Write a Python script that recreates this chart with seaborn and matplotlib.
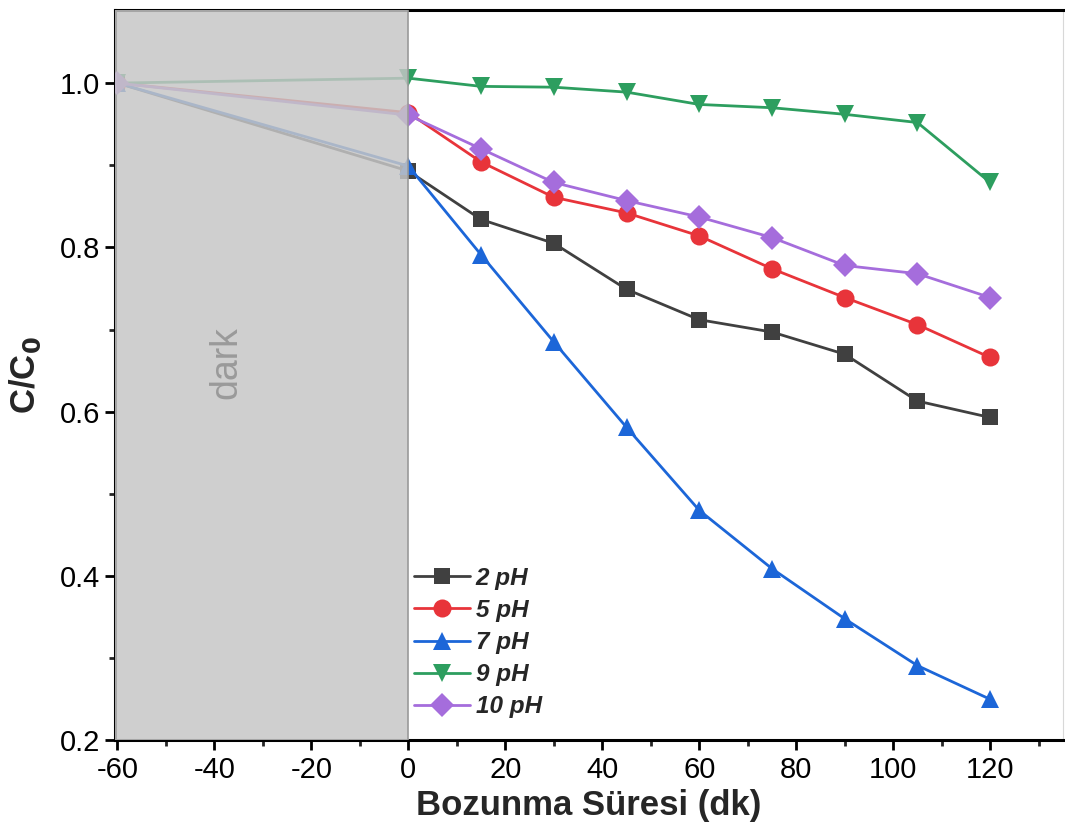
import numpy as np
import pandas as pd
import matplotlib
matplotlib.use("Agg")
import matplotlib.pyplot as plt
from matplotlib.ticker import MultipleLocator, FormatStrFormatter
import seaborn as sns

# Sampling times (min); negative = adsorption in the dark
time_min = [-60, 0, 15, 30, 45, 60, 75, 90, 105, 120]

ph_labels = ["2 pH", "5 pH", "7 pH", "9 pH", "10 pH"]
ph2 = [1.0, 0.893, 0.834, 0.805, 0.749, 0.712, 0.697, 0.670, 0.613, 0.593]
ph5 = [1.0, 0.964, 0.904, 0.861, 0.842, 0.814, 0.774, 0.739, 0.706, 0.666]
ph7 = [1.0, 0.899, 0.791, 0.685, 0.581, 0.480, 0.409, 0.348, 0.291, 0.250]
ph9 = [1.0, 1.006, 0.996, 0.995, 0.989, 0.974, 0.970, 0.962, 0.952, 0.879]
ph10 = [1.0, 0.961, 0.920, 0.879, 0.857, 0.837, 0.812, 0.778, 0.768, 0.739]

series = [ph2, ph5, ph7, ph9, ph10]
colors = ["#404040", "#e8343a", "#1c66d8", "#2d9e5f", "#a56ddc"]
markers = ["s", "o", "^", "v", "D"]
msizes = [12, 13, 13, 13, 12]

sns.set_style("ticks")
plt.rcParams["font.family"] = ["Liberation Sans", "DejaVu Sans"]
plt.rcParams["axes.unicode_minus"] = False

fig = plt.figure(figsize=(10.65, 8.3), dpi=100)
ax = fig.add_axes([0.108, 0.108, 0.89, 0.88])

for lab, vals, c, m, ms in zip(ph_labels, series, colors, markers, msizes):
    df = pd.DataFrame({"t": time_min, "c": vals})
    sns.lineplot(data=df, x="t", y="c", ax=ax, color=c, marker=m,
                 markersize=ms, markeredgewidth=0, linewidth=2.0,
                 label=lab, zorder=3)

# Dark (adsorption) period shading, laid over the lines
ax.axvspan(-61, 0, color="#c6c6c6", alpha=0.84, lw=0, zorder=4)
ax.axvline(0, color="#9a9a9a", lw=1.2, zorder=5)
ax.text(-37.5, 0.66, "dark", rotation=90, color="#9a9a9a", fontsize=27,
        ha="center", va="center", zorder=6)

ax.set_xlim(-60.5, 135)
ax.set_ylim(0.2, 1.089)
ax.xaxis.set_major_locator(MultipleLocator(20))
ax.xaxis.set_minor_locator(MultipleLocator(10))
ax.yaxis.set_major_locator(MultipleLocator(0.2))
ax.yaxis.set_minor_locator(MultipleLocator(0.1))
ax.tick_params(axis="both", which="major", direction="out", length=7,
               width=2, labelsize=21, colors="black")
ax.tick_params(axis="both", which="minor", direction="out", length=4,
               width=2)
ax.tick_params(axis="x", pad=4)
ax.yaxis.set_major_formatter(FormatStrFormatter("%.1f"))

for side in ["left", "bottom", "top"]:
    ax.spines[side].set_linewidth(2.2)
    ax.spines[side].set_color("black")
ax.spines["right"].set_linewidth(0.8)
ax.spines["right"].set_color("#d8d8d8")

ax.set_xlabel("Bozunma Süresi (dk)", fontsize=25, fontweight="bold",
              labelpad=4)
ax.set_ylabel(r"C/C$_\mathbf{0}$", fontsize=25, fontweight="bold",
              labelpad=12)

leg = ax.legend(loc="lower left", bbox_to_anchor=(0.292, 0.0),
                frameon=False, handlelength=2.3, handletextpad=0.25,
                labelspacing=0.38,
                prop={"size": 17.5, "weight": "bold", "style": "italic"})

fig.savefig("out.png", dpi=100)
